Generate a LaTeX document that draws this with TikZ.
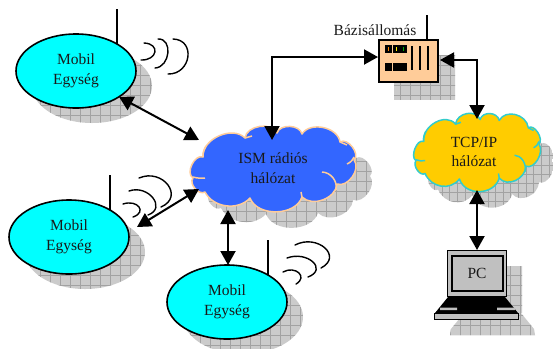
\documentclass[tikz,border=0pt]{standalone}
\usepackage{fontspec}
\setmainfont{Liberation Serif}
\usetikzlibrary{arrows.meta,shapes.geometric,calc}
\definecolor{shgray}{HTML}{CBCBCB}
\definecolor{shline}{HTML}{A2A2A2}
\definecolor{cyanfill}{HTML}{00FFFF}
\definecolor{ismblue}{HTML}{3366FF}
\definecolor{peach}{HTML}{FFCC99}
\definecolor{tcpgold}{HTML}{FFCC00}
\definecolor{tcpline}{HTML}{33CCCC}
\definecolor{pcgray}{HTML}{C0C0C0}
\tikzset{
  label text/.style={font=\fontsize{15.5}{19.5}\selectfont,align=center,text=black!90,inner sep=0pt},
  mobil/.style={label text,ellipse,draw=black,line width=1.6pt,fill=cyanfill,minimum width=120pt,minimum height=74pt,outer sep=0pt},
  antenna/.style={line width=2pt,black},
  wave/.style={line width=1.4pt,black,line cap=round},
  link/.style={line width=2pt,black,{Triangle[width=15pt,length=14pt]}-{Triangle[width=15pt,length=14pt]}},
  cloudedge/.style={line width=1.5pt,line join=round},
}
\newcommand{\shadowin}[1]{%
  \begin{scope}
    \clip #1;
    \fill[shgray] (0,0) rectangle (553,349);
    \foreach \gx in {0,10,...,550} {\draw[shline,line width=.5pt] (\gx,0) -- (\gx,349);}
    \foreach \gy in {5,15,...,345} {\draw[shline,line width=.5pt] (0,\gy) -- (553,\gy);}
  \end{scope}}
\newcommand{\wavearc}[3]{\draw[wave] (#1) .. controls ($(#1)+1.333*(#2)-0.667*(#1)-0.667*(#3)$) and ($(#3)+1.333*(#2)-0.667*(#1)-0.667*(#3)$) .. (#3);}
\newcommand{\cloudoutline}{(203,157) to[bend left=70] (245,138) to[bend left=75] (277,133) to[bend left=75] (302,134) to[bend left=70] (340,142) to[bend left=85] (354,160) to[bend left=75] (337,184) to[bend left=65] (302,197) to[bend left=70] (250,198) to[bend left=55] (205,192) to[bend left=80] (193,178) to[bend left=85] (203,157) -- cycle}
\newcommand{\cloudinner}{(322,172) to[bend left=50] (336,190) (347,164) to[bend right=20] (354,157) (205,178) to[bend left=10] (193,177) (203,157) to[bend left=15] (206,146) (302,197) -- (301,192) (245,138) -- (252,136) (340,142) -- (347,145)}
\begin{document}
\begin{tikzpicture}[x=1pt,y=-1pt]
\useasboundingbox (0,0) rectangle (553,349);
\fill[white] (0,0) rectangle (553,349);
% shadows
\shadowin{(92,86) ellipse [x radius=60,y radius=37]}
\shadowin{(85,252) ellipse [x radius=60,y radius=37]}
\shadowin{(243,317) ellipse [x radius=60,y radius=37]}
\shadowin{(394,55) rectangle (455,99)}
\begin{scope}[shift={(16,16)}]
  \shadowin{\cloudoutline}
\end{scope}
\begin{scope}[shift={(281.2,14)},xscale=.765,yscale=.914]
  \shadowin{\cloudoutline}
\end{scope}
\shadowin{(463,266) rectangle (522,312)}
\shadowin{(464,313) -- (521,313) -- (534,329) -- (535,335) -- (450,335) -- (451,329) -- cycle}
% antennas
\draw[antenna] (116.5,9) -- (116.5,50);
\draw[antenna] (110,175) -- (110,212);
\draw[antenna] (268,240) -- (268,280);
\draw[antenna] (427,15) -- (427,39);
% radio waves
\wavearc{144,43}{155,52}{141,60}
\wavearc{158,39}{168,53}{155,68}
\wavearc{173,39}{188,57}{168,74}
\wavearc{123,204}{139,207}{133,217}
\wavearc{129,191}{153,198}{148,215}
\wavearc{139,178}{168,185}{161,207}
\wavearc{283,272}{299,273}{296,284}
\wavearc{287,258}{313,262}{308,277}
\wavearc{295,245}{325,248}{321,268}
% mobile units
\node[mobil] (m1) at (76,71) {Mobil\\Egység};
\node[mobil] (m2) at (69,237) {Mobil\\Egység};
\node[mobil] (m3) at (227,302) {Mobil\\Egység};
% ISM cloud
\filldraw[cloudedge,fill=ismblue,draw=peach] \cloudoutline;
\draw[cloudedge,draw=peach] \cloudinner;
\node[label text] (ism) at (273,168) {ISM rádiós\\hálózat};
% TCP cloud
\begin{scope}[shift={(268.2,-2)},xscale=.765,yscale=.914]
  \filldraw[cloudedge,fill=tcpgold,draw=tcpline] \cloudoutline;
  \draw[cloudedge,draw=tcpline] \cloudinner;
\end{scope}
\node[label text] (tcp) at (474,152) {TCP/IP\\hálózat};
% base station
\node[draw=black,line width=2.6pt,fill=peach,minimum width=59pt,minimum height=42pt,inner sep=0pt,outer sep=1.3pt] (bs) at (408.5,61) {};
\foreach \sx in {385,393,400} {
  \fill[black] (\sx,44.5) rectangle +(6.5,8);
  \fill[black] (\sx,63) rectangle +(6.5,8);
}
\fill[orange] (388,47) rectangle +(1,3.5);
\fill[yellow] (396,47) rectangle +(1,3.5);
\fill[green!70!black] (403,47) rectangle +(1,3.5);
\foreach \sx in {412,420,428} {\draw[line width=2.6pt,black] (\sx,46) -- (\sx,70);}
\node[label text] (bslabel) at (375,30) {Bázisállomás};
% laptop
\draw[black,line width=1pt,fill=pcgray] (447.5,250.5) rectangle (506,296);
\node[draw=black,line width=2pt,fill=pcgray,minimum width=51pt,minimum height=35pt,inner sep=0pt,label text,outer sep=1pt] (pc) at (477,273) {PC};
\fill[black] (448,297) -- (505,297) -- (518,313) -- (435,313) -- cycle;
\fill[pcgray] (440,307.5) rectangle (457,310) (497,307.5) rectangle (515,310);
\draw[black,line width=1pt,fill=pcgray] (434.5,313) rectangle (518.5,319);
% connector ends
\coordinate (tipM1) at (m1.-31.5);
\coordinate (tipIsmA) at (199,140);
\coordinate (tipM2) at (137,227);
\coordinate (tipIsmB) at (199,189);
\coordinate (tipIsmC) at (228,210);
\coordinate (tipM3) at (m3.north -| tipIsmC);
\coordinate (tipIsmD) at (272,140);
\coordinate (tipBsL) at (378,57);
\coordinate (tipBsR) at (440,60);
\coordinate (tipTcpT) at (477,119);
\coordinate (tipTcpB) at (477,190);
\coordinate (tipPc) at (477,250);
% connectors
\draw[link] (tipM1) -- (tipIsmA);
\draw[link] (tipM2) -- (tipIsmB);
\draw[link] (tipIsmC) -- (tipM3);
\draw[link,line join=miter] (tipIsmD) |- (tipBsL);
\draw[link,line join=miter] (tipBsR) -| (tipTcpT);
\draw[link] (tipTcpB) -- (tipPc);
\end{tikzpicture}
\end{document}
